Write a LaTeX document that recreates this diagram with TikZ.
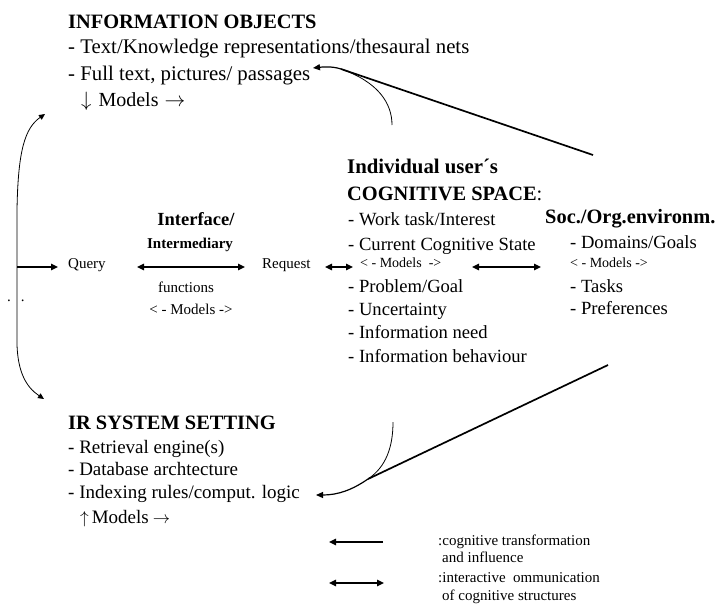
\documentclass[tikz,border=0pt]{standalone}
\usepackage{fontspec}
\setmainfont{Liberation Serif}
\usetikzlibrary{arrows.meta}
\newcommand{\fsz}[1]{\fontsize{#1}{#1}\selectfont}
\begin{document}
\begin{tikzpicture}[x=1pt,y=-1pt,
  txt/.style={inner sep=0pt, anchor=base west},
  ctxt/.style={inner sep=0pt, anchor=base},
  head/.style={txt, font=\bfseries\fsz{20.4}},
  body/.style={txt, font=\fsz{20.8}},
  cbody/.style={txt, font=\fsz{18.6}},
  small/.style={txt, font=\fsz{15}},
  tiny/.style={txt, font=\fsz{14}},
  thinline/.style={line width=0.8pt},
  arr/.style={line width=1.4pt, -{Triangle[length=7pt,width=6.5pt]}},
  darr/.style={line width=1.4pt, {Triangle[length=7pt,width=6.5pt]}-{Triangle[length=7pt,width=6.5pt]}},
  heavy/.style={line width=1.7pt}
]
\useasboundingbox (0,0) rectangle (717,603);

% INFORMATION OBJECTS
\node[head] (io) at (68,28) {INFORMATION OBJECTS};
\node[body] (io1) at (68,53) {- Text/Knowledge representations/thesaural nets};
\node[body] (io2) at (68,80) {- Full text, pictures/ passages};
\node[txt, font=\fsz{20}] (io3) at (81,106) {$\downarrow$\hspace{7pt}Models\hspace{6pt}$\rightarrow$};

% Interface
\node[ctxt, font=\bfseries\fsz{18.5}] (if1) at (196,225) {Interface/};
\node[ctxt, font=\bfseries\fsz{15}] (if2) at (190,248) {Intermediary};
\node[small] (query) at (68,268) {Query};
\node[small] (request) at (262,268) {Request};
\node[ctxt, font=\fsz{15}] (iff) at (186,292) {functions};
\node[ctxt, font=\fsz{15}] (ifm) at (191,314) {<\ - Models ->};

% Cognitive space
\node[txt, font=\bfseries\fsz{20.8}] (cs1) at (347,173) {Individual user´s};
\node[head] (cs2) at (347,200) {COGNITIVE SPACE\textmd{:}};
\node[cbody] (cs3) at (348,225) {- Work task/Interest};
\node[cbody] (cs4) at (348,250) {- Current Cognitive State};
\node[tiny] (csm) at (360,267) {<\ - Models\ \ ->};
\node[cbody] (cs5) at (348,292) {- Problem/Goal};
\node[cbody] (cs6) at (348,315) {- Uncertainty};
\node[cbody] (cs7) at (348,338) {- Information need};
\node[cbody] (cs8) at (348,362) {- Information behaviour};

% Soc./Org.
\node[head] (so1) at (545,223) {Soc./Org.environm.};
\node[cbody] (so2) at (570,248) {- Domains/Goals};
\node[tiny] (som) at (570,267) {<\ - Models ->};
\node[cbody] (so3) at (570,292) {- Tasks};
\node[cbody] (so4) at (570,314) {- Preferences};

% IR SYSTEM SETTING
\node[head] (ir) at (68,429) {IR SYSTEM SETTING};
\node[txt, font=\fsz{19}] (ir1) at (68,453) {- Retrieval engine(s)};
\node[txt, font=\fsz{19}] (ir2) at (68,475) {- Database archtecture};
\node[txt, font=\fsz{19}] (ir3) at (68,498) {- Indexing rules/comput. logic};
\node[txt, font=\fsz{19}] (ir4) at (80,523) {$\uparrow$\hspace{3pt}Models\hspace{4pt}$\rightarrow$};

% dots
\node[txt, font=\fsz{15}] (dots) at (7,301) {.\hspace{10pt}.};

% legend
\node[small] (lg1) at (438,545) {:cognitive transformation};
\node[small] (lg2) at (442,562) {and influence};
\node[small] (lg3) at (438,582) {:interactive\ \ ommunication};
\node[small] (lg4) at (442,600) {of cognitive structures};

% coordinates
\coordinate (hub) at (17,267);
\coordinate (upTip) at (45,114);
\coordinate (dnTip) at (44,399);
\coordinate (qTip) at (58,267);
\coordinate (ifL) at (137,267);
\coordinate (ifR) at (245,267);
\coordinate (rqL) at (325,267);
\coordinate (rqR) at (353,267);
\coordinate (csL) at (472,267);
\coordinate (csR) at (541,267);
\coordinate (topStart) at (593,155);
\coordinate (topJoin) at (341,69);
\coordinate (topTip) at (313,68);
\coordinate (topThin) at (392,125);
\coordinate (botStart) at (608,365);
\coordinate (botJoin) at (368,479);
\coordinate (botTip) at (316,495);
\coordinate (botThin) at (393,422);
\coordinate (l1a) at (383,542);
\coordinate (l1b) at (329,542);
\coordinate (l2a) at (329,583);
\coordinate (l2b) at (384,583);

% left bracket
\draw[thinline, -{Triangle[length=6pt,width=5.5pt]}] (hub) -- (17,210) .. controls (18,150) and (25,128) .. (upTip);
\draw[thinline, -{Triangle[length=6pt,width=5.5pt]}] (hub) -- (17,345) .. controls (18,372) and (26,387) .. (dnTip);
\draw[arr] (hub) -- (qTip);

% horizontal links
\draw[darr] (ifL) -- (ifR);
\draw[darr] (rqL) -- (rqR);
\draw[darr] (csL) -- (csR);

% influence lines
\draw[heavy] (topStart) -- (topJoin);
\draw[line width=1.2pt, -{Triangle[length=7pt,width=6pt]}] (topJoin) .. controls (332,66) and (322,67) .. (topTip);
\draw[thinline] (topThin) .. controls (392,103) and (378,82) .. (topJoin);

\draw[heavy] (botStart) -- (botJoin);
\draw[line width=1.2pt, -{Triangle[length=7pt,width=6pt]}] (botJoin) .. controls (352,490) and (338,495) .. (botTip);
\draw[thinline] (botThin) .. controls (393,447) and (386,467) .. (botJoin);

% legend arrows
\draw[arr] (l1a) -- (l1b);
\draw[darr] (l2a) -- (l2b);
\end{tikzpicture}
\end{document}
